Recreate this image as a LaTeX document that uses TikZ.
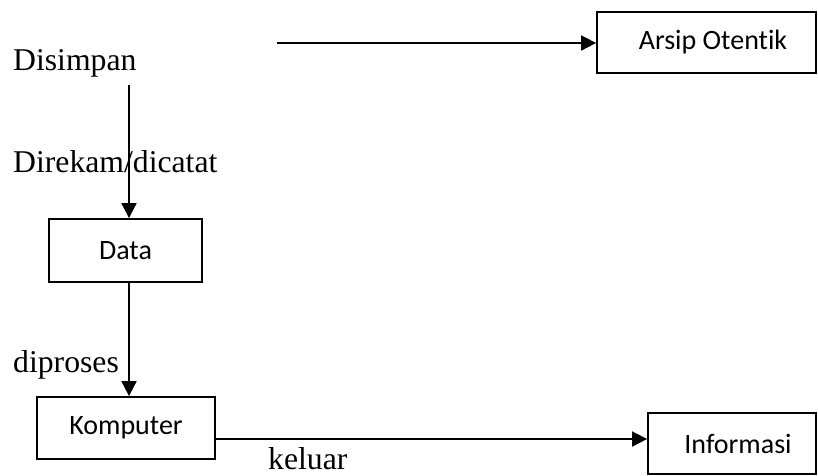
\documentclass[tikz,border=0pt]{standalone}
\usepackage{fontspec}
\setmainfont{Liberation Serif}
\newfontfamily\boxfont[Ligatures=NoCommon]{Carlito}
\usetikzlibrary{arrows.meta}
\begin{document}
\begin{tikzpicture}[x=1pt,y=-1pt,
  stepbox/.style={draw, line width=1.8pt, inner sep=0pt, font=\boxfont\fontsize{28}{32}\selectfont},
  lbl/.style={anchor=base west, inner sep=0pt, font=\fontsize{31.7}{36}\selectfont},
  arr/.style={line width=1.8pt, -{Triangle[length=15pt,width=15pt]}},
  ln/.style={line width=1.8pt}]
\useasboundingbox (0,0) rectangle (818,475);
% boxes
\node[stepbox, minimum width=219pt, minimum height=61pt] (arsip) at (706.5,42.5) {\hspace*{13pt}Arsip Otentik};
\node[stepbox, minimum width=153pt, minimum height=63pt] (data) at (125.5,250.5) {Data};
\node[stepbox, minimum width=178pt, minimum height=62pt] (komp) at (126,428) {Komputer};
\node[stepbox, minimum width=168pt, minimum height=61pt] (info) at (732,443.5) {\hspace*{12pt}Informasi};
% labels
\node[lbl] (disimpan) at (13,70) {Disimpan};
\node[lbl] (direkam) at (13,172) {Direkam/dicatat};
\node[lbl] (diproses) at (13,372) {diproses};
\node[lbl] (keluar) at (268,469) {keluar};
% connectors
\coordinate (tstart) at (277,43);
\coordinate (vstart) at (129,85);
\coordinate (dbot) at (129,282);
\coordinate (kout) at (215,439);
\draw[arr] (tstart) -- (tstart -| arsip.west);
\draw[arr] (vstart) -- (vstart |- data.north);
\draw[arr] (data.south -| dbot) -- (dbot |- komp.north);
\draw[arr] (kout -| komp.east) -- (kout -| info.west);
\end{tikzpicture}
\end{document}
